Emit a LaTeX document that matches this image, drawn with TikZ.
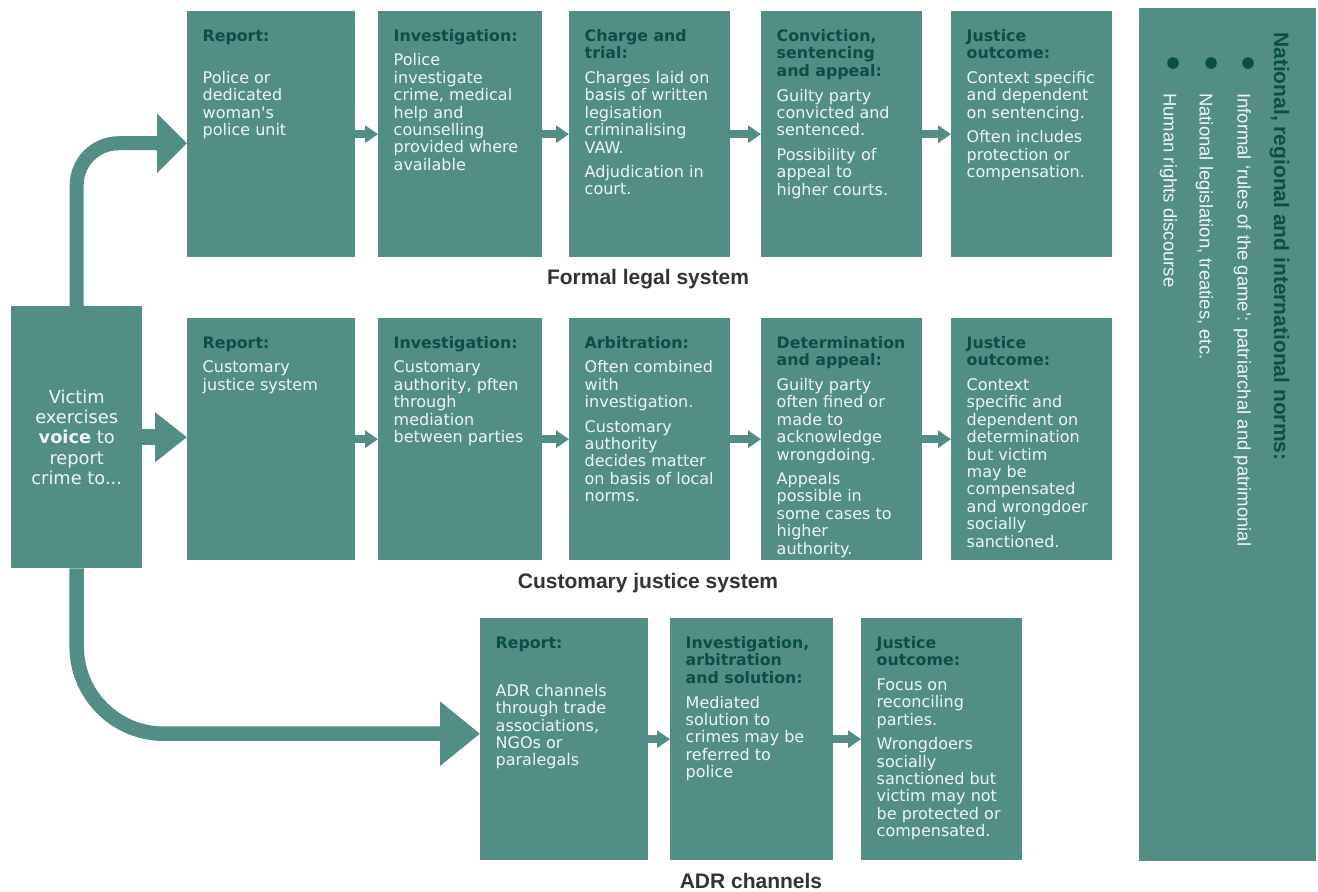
\documentclass[tikz,border=0pt]{standalone}
\usepackage{fontspec}
\setmainfont{DejaVu Sans}
\newfontfamily\arialfont{Liberation Sans}
\newfontfamily\plainquotefont{DejaVu Sans}
\usetikzlibrary{arrows.meta}
\definecolor{boxteal}{HTML}{528E86}
\definecolor{titlegreen}{HTML}{0A4F45}
\definecolor{bodytxt}{HTML}{F0F6F4}
\definecolor{labelgray}{HTML}{333333}

\newcommand{\stagetext}[4]{%
\parbox[t]{#1}{\leftskip=15.5pt\rightskip=-40pt plus 1fil\parfillskip=0pt plus 1fil\parindent=0pt
\fontsize{15.8}{17.6}\bfseries\leavevmode\color{titlegreen}#3\par
\vspace{#2}%
\fontsize{16}{17.4}\mdseries\selectfont\leavevmode\color{bodytxt}#4\par}}
\newcommand{\pgap}{\par\vspace{7pt}\leavevmode}
\newcommand{\apos}{{\plainquotefont'}}

\tikzset{
  stage/.style={fill=boxteal, inner sep=0pt, anchor=north west, text height=30pt},
  toprow/.style={stage, text depth=216pt},
  lowrow/.style={stage, text depth=212pt},
  smallarrow/.style={draw=boxteal, line width=7.5pt, -{Triangle[length=13pt,width=17pt]}},
  upperarrow/.style={draw=boxteal, line width=14pt, rounded corners=42pt, -{Triangle[length=30pt,width=58pt]}},
  midarrow/.style={draw=boxteal, line width=16pt, -{Triangle[length=32pt,width=48pt]}},
  lowerarrow/.style={draw=boxteal, line width=14.5pt, rounded corners=87pt, -{Triangle[length=40pt,width=62pt]}},
  syslabel/.style={anchor=base, inner sep=0pt, text=labelgray, font=\arialfont\bfseries\fontsize{21}{24}\selectfont},
  normitem/.style={rotate=-90, anchor=base west, inner sep=0pt, text=bodytxt, font=\arialfont\fontsize{18.5}{22}\selectfont},
}

\begin{document}
\begin{tikzpicture}[x=1pt, y=-1pt]
\fill[white] (0,0) rectangle (1318,892);
\useasboundingbox (0,0) rectangle (1318,892);

% victim box
\node[fill=boxteal, inner sep=0pt, anchor=north west, minimum width=131pt, minimum height=262pt,
      align=center, text=bodytxt, font=\fontsize{17.8}{20.4}\selectfont] (victim) at (11,306)
  {Victim\\exercises\\\textbf{voice} to\\report\\crime to...};

% formal legal system
\node[toprow] (f1) at (187,11) {\stagetext{168pt}{24.6pt}{Report:}{Police or\\dedicated\\woman\apos s\\police unit}};
\node[toprow] (f2) at (378,11) {\stagetext{164pt}{7.3pt}{Investigation:}{Police\\investigate\\crime, medical\\help and\\counselling\\provided where\\available}};
\node[toprow] (f3) at (569,11) {\stagetext{161pt}{7.3pt}{Charge and\\trial:}{Charges laid on\\basis of written\\legisation\\criminalising\\VAW.\pgap Adjudication in\\court.}};
\node[toprow] (f4) at (761,11) {\stagetext{161pt}{7.3pt}{Conviction,\\sentencing\\and appeal:}{Guilty party\\convicted and\\sentenced.\pgap Possibility of\\appeal to\\higher courts.}};
\node[toprow] (f5) at (951,11) {\stagetext{161pt}{7.3pt}{Justice\\outcome:}{Context specific\\and dependent\\on sentencing.\pgap Often includes\\protection or\\compensation.}};

% customary justice system
\node[lowrow] (c1) at (187,318) {\stagetext{168pt}{7.3pt}{Report:}{Customary\\justice system}};
\node[lowrow] (c2) at (378,318) {\stagetext{164pt}{7.3pt}{Investigation:}{Customary\\authority, pften\\through\\mediation\\between parties}};
\node[lowrow] (c3) at (569,318) {\stagetext{161pt}{7.3pt}{Arbitration:}{Often combined\\with\\investigation.\pgap Customary\\authority\\decides matter\\on basis of local\\norms.}};
\node[lowrow] (c4) at (761,318) {\stagetext{161pt}{7.3pt}{Determination\\and appeal:}{Guilty party\\often fined or\\made to\\acknowledge\\wrongdoing.\pgap Appeals\\possible in\\some cases to\\higher\\authority.}};
\node[lowrow] (c5) at (951,318) {\stagetext{161pt}{7.3pt}{Justice\\outcome:}{Context\\specific and\\dependent on\\determination\\but victim\\may be\\compensated\\and wrongdoer\\socially\\sanctioned.}};

% ADR channels
\node[lowrow] (a1) at (480,618) {\stagetext{168pt}{30.6pt}{Report:}{ADR channels\\through trade\\associations,\\NGOs or\\paralegals}};
\node[lowrow] (a2) at (670,618) {\stagetext{163pt}{7.3pt}{Investigation,\\arbitration\\and solution:}{Mediated\\solution to\\crimes may be\\referred to\\police}};
\node[lowrow] (a3) at (861,618) {\stagetext{161pt}{7.3pt}{Justice\\outcome:}{Focus on\\reconciling\\parties.\pgap Wrongdoers\\socially\\sanctioned but\\victim may not\\be protected or\\compensated.}};

% norms panel
\node[fill=boxteal, inner sep=0pt, anchor=north west, minimum width=177pt, minimum height=853pt] (norms) at (1139,8) {};
\node[rotate=-90, anchor=base west, inner sep=0pt, text=titlegreen, font=\arialfont\bfseries\fontsize{21}{24}\selectfont] (normstitle) at (1274,32) {National, regional and international norms:};
\fill[titlegreen] (1248,63) circle[radius=5.8pt];
\fill[titlegreen] (1211,63) circle[radius=5.8pt];
\fill[titlegreen] (1173,63) circle[radius=5.8pt];
\node[normitem] (norm1) at (1237.5,93) {Informal ‘rules of the game’: patriarchal and patrimonial};
\node[normitem] (norm2) at (1199.5,93) {National legislation, treaties, etc.};
\node[normitem] (norm3) at (1163.5,93) {Human rights discourse};

% system labels
\node[syslabel] (labformal) at (648,284) {Formal legal system};
\node[syslabel] (labcust) at (648,588) {Customary justice system};
\node[syslabel] (labadr) at (751,888) {ADR channels};

% connectors
\draw[upperarrow] (victim.north) |- ([yshift=-9pt]f1.west);
\draw[midarrow] (victim.east) -- (victim.east -| c1.west);
\draw[lowerarrow] (victim.south) |- ([yshift=5.5pt]a1.west);

\draw[smallarrow] (f1.east) -- (f2.west);
\draw[smallarrow] (f2.east) -- (f3.west);
\draw[smallarrow] (f3.east) -- (f4.west);
\draw[smallarrow] (f4.east) -- (f5.west);
\draw[smallarrow] (c1.east) -- (c2.west);
\draw[smallarrow] (c2.east) -- (c3.west);
\draw[smallarrow] (c3.east) -- (c4.west);
\draw[smallarrow] (c4.east) -- (c5.west);
\draw[smallarrow] (a1.east) -- (a2.west);
\draw[smallarrow] (a2.east) -- (a3.west);
\end{tikzpicture}
\end{document}
